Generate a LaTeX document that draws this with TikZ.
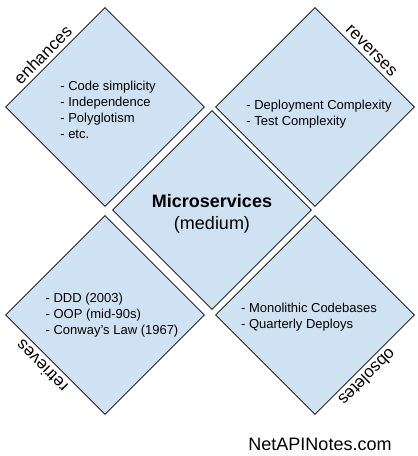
\documentclass[tikz,border=0pt]{standalone}
\usepackage{fontspec}
\setmainfont{Liberation Sans}
\usetikzlibrary{shapes.geometric,calc}
\definecolor{paleblue}{HTML}{CFE2F3}
\begin{document}
\begin{tikzpicture}[x=1pt,y=-1pt]
        \tikzset{box/.style={draw=black,fill=paleblue,line width=0.7pt,shape=diamond,aspect=1,inner sep=0pt,minimum width=199pt,minimum height=199pt}}
        \tikzset{items/.style={align=left,inner sep=0pt,font=\fontsize{13}{16}\selectfont}}
        \tikzset{lbl/.style={anchor=south,inner xsep=0pt,inner ysep=4pt,font=\fontsize{17}{20}\selectfont}}
        \useasboundingbox (0,0) rectangle (418,456);
        % the five diamonds
        \node [box] (tl) at (105,107) {};
        \node [box] (tr) at (315,107) {};
        \node [box] (bl) at (105,315) {};
        \node [box] (br) at (315,315) {};
        \node [box] (mid) at (212,210) {};
        % texts inside
        \node [items] (tltext) at (108,110) {- Code simplicity\\- Independence\\- Polyglotism\\- etc.};
        \node [items] (trtext) at (319,114) {- Deployment Complexity\\- Test Complexity};
        \node [items] (bltext) at (112,315) {- DDD (2003)\\- OOP (mid-90s)\\- Conway's Law (1967)};
        \node [items] (brtext) at (309,317) {- Monolithic Codebases\\- Quarterly Deploys};
        \node [align=center,inner sep=0pt,font=\fontsize{18}{22}\selectfont] (midtext) at (212,214) {\textbf{Microservices}\\(medium)};
        % edge labels
        \node [lbl,rotate=45] (enh) at ($(tl.west)!0.45!(tl.north)$) {enhances};
        \node [lbl,rotate=-45] (rev) at ($(tr.north)!0.5!(tr.east)$) {reverses};
        \node [lbl,rotate=135] (ret) at ($(bl.west)!0.44!(bl.south)$) {retrieves};
        \node [lbl,rotate=-135] (obs) at ($(br.east)!0.55!(br.south)$) {obsoletes};
        \node [anchor=base,inner sep=0pt,font=\fontsize{18}{22}\selectfont] (site) at (320,450) {NetAPINotes.com};
\end{tikzpicture}
\end{document}
